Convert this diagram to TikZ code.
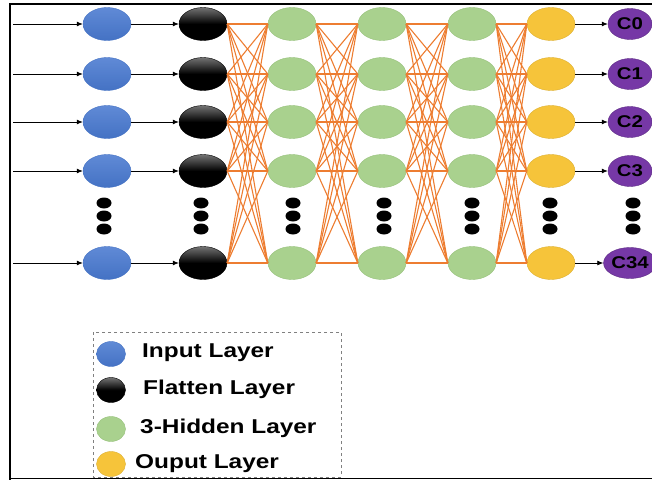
\documentclass[tikz,border=0pt]{standalone}
\usepackage{fontspec}
\setmainfont{Liberation Sans}
\usetikzlibrary{arrows.meta,shapes.geometric}
\definecolor{inblue}{RGB}{68,114,196}
\definecolor{inbluetop}{RGB}{96,138,214}
\definecolor{hidgreen}{RGB}{169,209,142}
\definecolor{hidgreenedge}{RGB}{150,192,122}
\definecolor{outyellow}{RGB}{246,196,58}
\definecolor{clspurple}{RGB}{118,56,166}
\definecolor{linkorange}{RGB}{237,125,49}
\begin{document}
\begin{tikzpicture}[x=1pt,y=-1pt,
  neuron/.style={ellipse, minimum width=48pt, minimum height=33pt, inner sep=0pt},
  inputn/.style={neuron, draw=inblue, top color=inbluetop, bottom color=inblue},
  flatn/.style={neuron, draw=black, top color=black!55, bottom color=black, middle color=black},
  hiddenn/.style={neuron, draw=hidgreenedge, fill=hidgreen},
  outn/.style={neuron, draw=outyellow!90!black, fill=outyellow},
  clsn/.style={ellipse, minimum width=44pt, minimum height=31pt, inner sep=0pt,
    draw=clspurple!80!black, fill=clspurple, text=black,
    font=\fontsize{17}{17}\selectfont\bfseries},
  arr/.style={-{Latex[length=6pt,width=5pt]}, line width=0.8pt},
  link/.style={draw=linkorange, line width=1.1pt},
  legdot/.style={ellipse, minimum width=29pt, minimum height=25pt, inner sep=0pt},
  legtxt/.style={anchor=west, inner sep=0pt, font=\fontsize{20}{20}\selectfont\bfseries}]
\useasboundingbox (0,0) rectangle (652,480);

% outer frame
\draw[line width=1.5pt] (652,4) -- (10,4) -- (10,480);
\draw[line width=1.5pt] (10,478.5) -- (652,478.5);

% neurons, row by row
\foreach \y [count=\i] in {24,74,122,171,263} {
  \node[inputn]  (b\i) at (107,\y) {};
  \node[flatn]   (k\i) at (203,\y) {};
  \node[hiddenn] (g\i) at (292,\y) {};
  \node[hiddenn] (h\i) at (382,\y) {};
  \node[hiddenn] (m\i) at (472,\y) {};
  \node[outn]    (o\i) at (551,\y) {};
  \coordinate (s\i) at (13,\y);
}
\foreach \i/\lab in {1/C0,2/C1,3/C2,4/C3,5/C34}
  \node[clsn] (c\i) at (630,\ifcase\i\or24\or74\or122\or171\or263\fi) {\scalebox{1.2}[1]{\lab}};

% fully connected links
\foreach \a/\b in {k/g,g/h,h/m,m/o}
  \foreach \i in {1,...,5}
    \foreach \j in {1,...,5}
      \draw[link] (\a\i.east) -- (\b\j.west);

% arrows
\foreach \i in {1,...,5} {
  \draw[arr] (s\i) -- (b\i.west);
  \draw[arr] (b\i.east) -- (k\i.west);
  \draw[arr] (o\i.east) -- (c\i.west);
}

% ellipsis dots
\foreach \x in {104,201,293,384,472,550,633}
  \foreach \d in {203,216,229}
    \fill (\x,\d) ellipse (7.5pt and 5.5pt);

% legend
\draw[dashed, draw=gray, line width=0.8pt] (93,332) rectangle (341,477);
\node[legdot, draw=inblue, top color=inbluetop, bottom color=inblue] (l1) at (111,354) {};
\node[legdot, draw=black, top color=black!55, bottom color=black, middle color=black] (l2) at (111,390) {};
\node[legdot, draw=hidgreenedge, fill=hidgreen] (l3) at (111,429) {};
\node[legdot, draw=outyellow!90!black, fill=outyellow] (l4) at (111,464) {};
\node[legtxt] (t1) at (142,353) {\scalebox{1.22}[1]{Input Layer}};
\node[legtxt] (t2) at (143,389) {\scalebox{1.22}[1]{Flatten Layer}};
\node[legtxt] (t3) at (140,428) {\scalebox{1.22}[1]{3-Hidden Layer}};
\node[legtxt] (t4) at (135,464) {\scalebox{1.22}[1]{Ouput Layer}};
\end{tikzpicture}
\end{document}
